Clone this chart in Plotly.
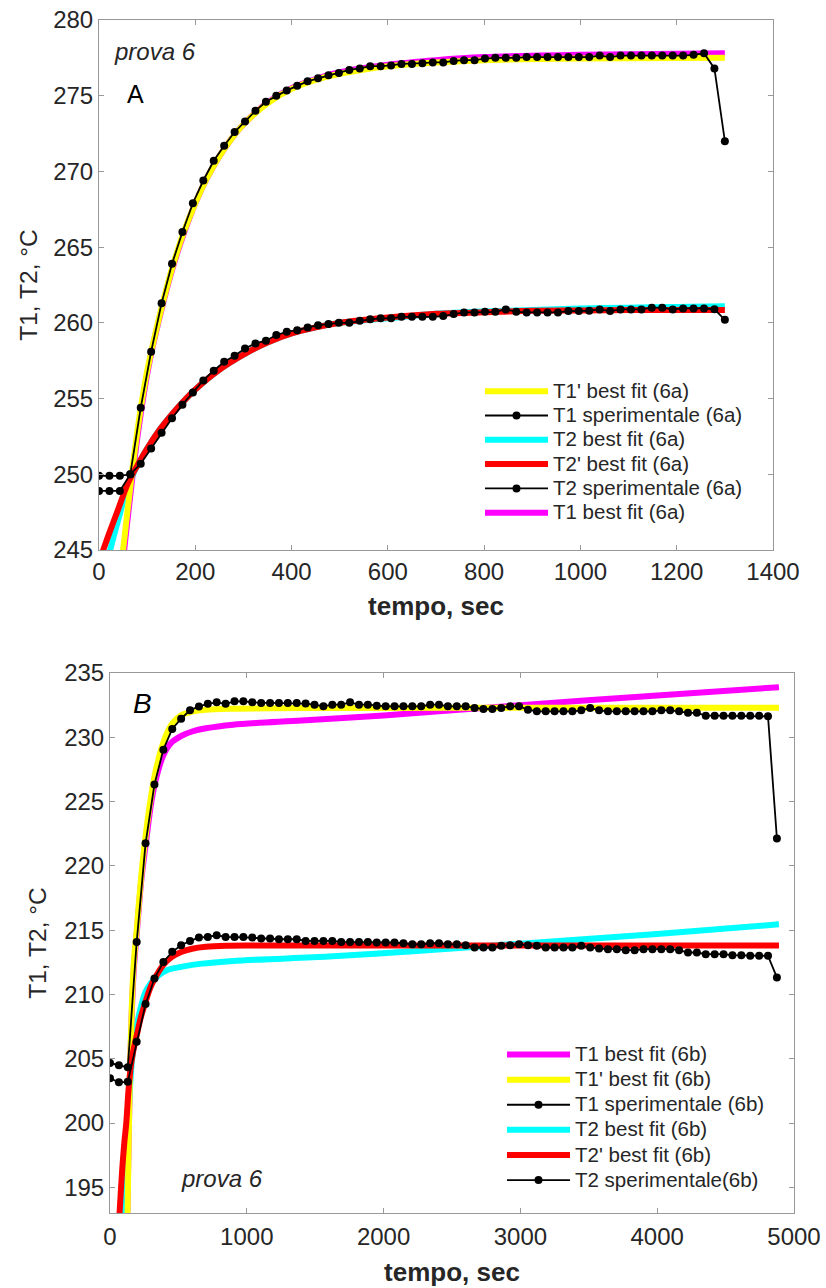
import plotly.graph_objects as go

# ---------------- Panel A data (prova 6a) ----------------
tA = [0, 21.7, 43.3, 65, 86.7, 108.3, 130, 151.7, 173.3, 195, 216.7, 238.3, 260, 281.7, 303.3,
      325, 346.7, 368.3, 390, 411.7, 433.3, 455, 476.7, 498.3, 520, 541.7, 563.3, 585, 606.7,
      628.3, 650, 671.7, 693.3, 715, 736.7, 758.3, 780, 801.7, 823.3, 845, 866.7, 888.3, 910,
      931.7, 953.3, 975, 996.7, 1018.3, 1040, 1061.7, 1083.3, 1105, 1126.7, 1148.3, 1170,
      1191.7, 1213.3, 1235, 1256.7, 1278.3, 1300]
T1A_exp = [249.9, 249.9, 249.9, 250.0, 254.4, 258.1, 261.3, 263.9, 266.0, 267.9, 269.4, 270.7,
           271.7, 272.6, 273.3, 274.0, 274.6, 275.0, 275.35, 275.65, 275.95, 276.15, 276.35,
           276.5, 276.7, 276.8, 276.95, 276.95, 277.0, 277.1,
           277.1, 277.15, 277.2, 277.2, 277.3, 277.35, 277.35, 277.45, 277.5, 277.5, 277.5,
           277.55, 277.55, 277.55, 277.55, 277.55, 277.55, 277.55, 277.65, 277.55, 277.65,
           277.65, 277.65, 277.65, 277.65, 277.65, 277.65, 277.7,
           277.8, 276.8, 272.0]
T2A_exp = [248.9, 248.9, 248.9, 250.0, 250.7, 251.7, 252.74, 253.7, 254.6, 255.4, 256.2, 256.84,
           257.43, 257.83, 258.31, 258.64, 258.82, 259.2, 259.41, 259.52, 259.7, 259.85, 259.92,
           260.0, 260.0, 260.14, 260.23, 260.3, 260.3, 260.4,
           260.4,
           260.4, 260.4, 260.45, 260.58, 260.69, 260.69, 260.73, 260.73, 260.89, 260.73, 260.69,
           260.69, 260.69, 260.69, 260.78, 260.78, 260.8, 260.89, 260.78, 260.89, 260.89, 260.89,
           261.0, 261.0, 260.89, 260.95, 260.95,
           260.95, 260.9, 260.2]

tA_T1fit = [45, 50, 55, 60, 70, 80, 90, 100, 110, 130, 150, 175, 200, 225, 250, 275, 300, 350,
            400, 450, 500, 600, 700, 800, 1000, 1300]
T1A_fit_yel = [243.6, 245.0, 246.4, 247.8, 250.5, 252.9, 255.0, 256.8, 258.3, 261.0, 263.4,
               265.9, 267.9, 269.6, 271.0, 272.15, 273.1, 274.5, 275.45, 276.05, 276.45, 276.95,
               277.2, 277.35, 277.45, 277.5]
T1A_fit_mag = [242.8, 244.3, 245.8, 247.2, 250.0, 252.5, 254.7, 256.6, 258.2, 260.9, 263.3,
               265.8, 267.9, 269.6, 271.0, 272.15, 273.1, 274.55, 275.5, 276.1, 276.55, 277.05,
               277.35, 277.55, 277.7, 277.8]
tA_T2fit = [0, 20, 40, 60, 80, 100, 125, 150, 175, 200, 250, 300, 350, 400, 450, 500, 600, 700,
            800, 900, 1000, 1100, 1200, 1300]
T2A_fit_red = [244.2, 246.0, 247.7, 249.4, 250.6, 251.7, 252.9, 253.9, 254.8, 255.6, 256.9,
               257.9, 258.7, 259.3, 259.7, 260.0, 260.35, 260.6, 260.7, 260.8, 260.82, 260.85,
               260.85, 260.85]
T2A_fit_cya = [241.8, 244.6, 247.0, 249.2, 250.6, 251.7, 252.9, 253.9, 254.8, 255.6, 256.9,
               257.9, 258.7, 259.3, 259.7, 260.0, 260.3, 260.6, 260.75, 260.85, 260.95, 261.0,
               261.05, 261.1]

# ---------------- Panel B data (prova 6b) ----------------
tB = [0, 65, 130, 195, 260, 325, 390, 455, 520, 585, 650, 715, 780, 845, 910, 975, 1040, 1105,
      1170, 1235, 1300, 1365, 1430, 1495, 1560, 1625, 1690, 1755, 1820, 1885, 1950, 2015, 2080,
      2145, 2210, 2275, 2340, 2405, 2470, 2535, 2600, 2665, 2730, 2795, 2860, 2925, 2990, 3055,
      3120, 3185, 3250, 3315, 3380, 3445, 3510, 3575, 3640, 3705, 3770, 3835, 3900, 3965, 4030,
      4095, 4160, 4225, 4290, 4355, 4420, 4485, 4550, 4615, 4680, 4745, 4810, 4875]
T1B_exp = [204.67, 204.5, 204.33, 214.08, 221.75, 226.33, 229.04, 230.65, 231.45, 232.1, 232.4,
           232.6, 232.72,
           232.6, 232.8, 232.8, 232.72, 232.67, 232.67, 232.67, 232.67, 232.67, 232.62, 232.54,
           232.41, 232.54, 232.54, 232.72, 232.54, 232.54, 232.46, 232.41, 232.41, 232.41, 232.41,
           232.41, 232.54, 232.54, 232.41, 232.41, 232.41, 232.28, 232.2, 232.2, 232.28,
           232.41, 232.41, 232.15, 232.02, 232.02, 232.02, 232.02, 232.02, 232.1, 232.28,
           232.1, 232.02, 232.02, 232.02, 232.02, 232.02, 232.02, 232.1, 232.1, 232.02,
           231.9, 231.9, 231.68, 231.68, 231.68, 231.68, 231.68, 231.68, 231.68, 231.63,
           222.13]
T2B_exp = [203.48, 203.17, 203.2, 206.32, 209.25, 211.24, 212.53, 213.31, 213.83, 214.16, 214.42,
           214.47, 214.6,
           214.47, 214.47, 214.47, 214.42, 214.35, 214.35, 214.29, 214.29, 214.29, 214.16, 214.16,
           214.16, 214.16, 214.08, 214.08, 214.08, 214.08, 214.04, 214.04, 214.04, 213.98, 213.9,
           213.9, 213.98, 213.98, 213.9, 213.9, 213.83, 213.65, 213.65, 213.65, 213.78,
           213.83, 213.9, 213.83, 213.78, 213.65, 213.65, 213.65, 213.65, 213.78, 213.65,
           213.57, 213.52, 213.52, 213.44, 213.44, 213.52, 213.52, 213.52, 213.52, 213.44,
           213.26, 213.26, 213.13, 213.13, 213.13, 213.05, 213.05, 213.0, 213.0, 213.0,
           211.32]

tB_T1fit = [125, 135, 145, 160, 175, 195, 230, 260, 300, 330, 390, 450, 520, 600, 700, 900,
            1400, 2000, 3000, 4000, 4890]
T1B_fit_yel = [190.5, 197.5, 203.5, 209.3, 212.6, 215.0, 219.4, 222.3, 225.4, 227.2, 229.6,
               231.0, 231.7, 232.0, 232.15, 232.22, 232.27, 232.28, 232.3, 232.3, 232.3]
T1B_fit_mag = [192.0, 198.0, 203.2, 208.8, 212.1, 214.7, 219.0, 221.6, 224.8, 226.5, 228.6,
               229.6, 230.1, 230.45, 230.7, 230.98, 231.3, 231.7, 232.5, 233.25, 233.9]
tB_T2fit_red = [60, 71, 90, 105, 119, 135, 152, 170, 195, 225, 256, 290, 320, 390, 450, 520, 600,
                700, 850, 1000, 2000, 3000, 4000, 4890]
T2B_fit_red = [191.2, 193.2, 196.5, 198.5, 200.0, 202.5, 204.4, 205.6, 206.8, 208.2, 209.3,
               210.4, 211.1, 212.3, 212.9, 213.3, 213.55, 213.7, 213.78, 213.8, 213.8, 213.8,
               213.8, 213.8]
tB_T2fit_cya = [100, 108, 125, 140, 160, 195, 230, 260, 300, 350, 420, 500, 600, 900, 1600, 2268,
                3000, 4000, 4890]
T2B_fit_cya = [190.5, 193.0, 198.0, 201.5, 204.8, 207.5, 209.2, 210.2, 210.9, 211.45, 211.9,
               212.1, 212.3, 212.6, 212.95, 213.4, 213.95, 214.7, 215.45]

# ---------------- styling ----------------
YEL = "#ffff00"
MAG = "#ff00ff"
CYA = "#00ffff"
RED = "#ff0000"
FIT_W = 6
FONT = "Arial, Liberation Sans, Helvetica, sans-serif"
TXT = "#262626"
FRAME = "#999999"
LEG_TXT = 20.5  # displayed size of legend labels

# the page body margin is removed after load, so the figure fills the window exactly
W, H = 826, 1288


def px_x(p):
    return p / W


def px_y(p):
    return 1 - p / H


fig = go.Figure()


def lab(s):
    return f'<span style="font-size:{LEG_TXT}px">{s}</span>'


def fit(x, y, color, name, xa, ya, leg, rank):
    fig.add_trace(go.Scatter(x=x, y=y, mode="lines", name=lab(name),
                             line=dict(color=color, width=FIT_W, shape="spline", smoothing=0.8),
                             xaxis=xa, yaxis=ya, legend=leg, legendrank=rank))


def exp(x, y, name, xa, ya, leg, rank):
    fig.add_trace(go.Scatter(x=x, y=y, mode="lines+markers", name=lab(name),
                             line=dict(color="black", width=1.8),
                             marker=dict(color="black", size=8),
                             xaxis=xa, yaxis=ya, legend=leg, legendrank=rank))


# Panel A (draw order: magenta, cyan, yellow, red, experimental)
fit(tA_T1fit, T1A_fit_mag, MAG, "T1 best fit (6a)", "x", "y", "legend", 6)
fit(tA_T2fit, T2A_fit_cya, CYA, "T2 best fit (6a)", "x", "y", "legend", 3)
fit(tA_T1fit, T1A_fit_yel, YEL, "T1' best fit (6a)", "x", "y", "legend", 1)
fit(tA_T2fit, T2A_fit_red, RED, "T2' best fit (6a)", "x", "y", "legend", 4)
exp(tA, T1A_exp, "T1 sperimentale (6a)", "x", "y", "legend", 2)
exp(tA, T2A_exp, "T2 sperimentale (6a)", "x", "y", "legend", 5)

# Panel B
fit(tB_T1fit, T1B_fit_mag, MAG, "T1 best fit (6b)", "x2", "y2", "legend2", 1)
fit(tB_T2fit_cya, T2B_fit_cya, CYA, "T2 best fit (6b)", "x2", "y2", "legend2", 4)
fit(tB_T1fit, T1B_fit_yel, YEL, "T1' best fit (6b)", "x2", "y2", "legend2", 2)
fit(tB_T2fit_red, T2B_fit_red, RED, "T2' best fit (6b)", "x2", "y2", "legend2", 5)
exp(tB, T1B_exp, "T1 sperimentale (6b)", "x2", "y2", "legend2", 3)
exp(tB, T2B_exp, "T2 sperimentale(6b)", "x2", "y2", "legend2", 6)


def ax(domain, rng, dtick, tick0, title, bold=False, standoff=6, anchor=None, tsize=24.5,
       tls=0):
    t = f"<b>{title}</b>" if bold else title
    return dict(domain=domain, range=rng, dtick=dtick, tick0=tick0, showgrid=False,
                zeroline=False, showline=True, linecolor=FRAME, linewidth=1, mirror="ticks",
                ticks="inside", ticklen=5, tickcolor=FRAME, ticklabeloverflow="allow",
                ticklabelstandoff=tls,
                tickfont=dict(family=FONT, size=24, color=TXT),
                title=dict(text=t, font=dict(family=FONT, size=tsize, color=TXT),
                           standoff=standoff),
                automargin=False, anchor=anchor)


fig.update_layout(
    width=W, height=H, margin=dict(l=0, r=0, t=0, b=0),
    paper_bgcolor="white", plot_bgcolor="white",
    font=dict(family=FONT, color=TXT),
    xaxis=ax([px_x(99), px_x(773)], [0, 1400], 200, 0, "tempo, sec", bold=True,
             standoff=13, anchor="y", tsize=26),
    yaxis=ax([px_y(550), px_y(20)], [245, 280], 5, 245, "T1, T2, °C", standoff=8,
             anchor="x"),
    xaxis2=ax([px_x(110), px_x(794)], [0, 5000], 1000, 0, "tempo, sec", bold=True,
              standoff=14, anchor="y2", tsize=26, tls=2),
    yaxis2=ax([px_y(1213), px_y(673)], [193, 235], 5, 195, "T1, T2, °C", standoff=10,
              anchor="x2"),
    legend=dict(x=px_x(480), y=px_y(374), xanchor="left", yanchor="top",
                bgcolor="rgba(0,0,0,0)", borderwidth=0, itemwidth=63, tracegroupgap=0,
                font=dict(family=FONT, size=16.4, color=TXT)),
    legend2=dict(x=px_x(502), y=px_y(1037), xanchor="left", yanchor="top",
                 bgcolor="rgba(0,0,0,0)", borderwidth=0, itemwidth=63, tracegroupgap=0,
                 font=dict(family=FONT, size=17, color=TXT)),
    showlegend=True,
)

fig.add_annotation(x=117, y=277.92, xref="x", yref="y", text="<i>prova 6</i>", showarrow=False,
                   font=dict(family=FONT, size=24, color=TXT))
fig.add_annotation(x=75, y=275.1, xref="x", yref="y", text="A", showarrow=False,
                   font=dict(family=FONT, size=25, color="black"))
fig.add_annotation(x=241, y=232.6, xref="x2", yref="y2", text="<i>B</i>", showarrow=False,
                   font=dict(family=FONT, size=28, color="black"))
fig.add_annotation(x=820, y=195.66, xref="x2", yref="y2", text="<i>prova 6</i>", showarrow=False,
                   font=dict(family=FONT, size=24, color=TXT))

fig.write_html("out.html", config={"displayModeBar": False},
               post_script="document.body.style.margin='0';document.body.style.overflow='hidden';")
